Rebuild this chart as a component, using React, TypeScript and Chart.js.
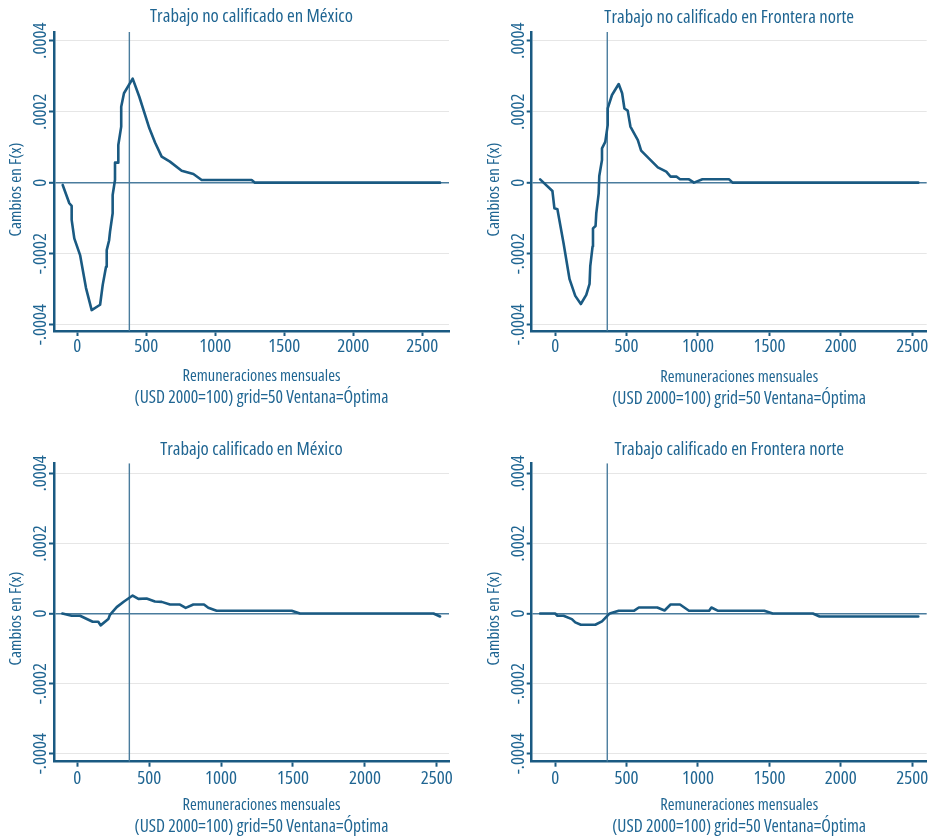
import React, { useEffect, useRef } from 'react';
import { Chart, registerables } from 'chart.js';

Chart.register(...registerables);

// ---------- DATA ----------
const TITLES = [
  'Trabajo no calificado en México',
  'Trabajo no calificado en Frontera norte',
  'Trabajo calificado en México',
  'Trabajo calificado en Frontera norte',
];
const X_TITLE = ['Remuneraciones mensuales', '(USD 2000=100) grid=50 Ventana=Óptima'];
const Y_TITLE = 'Cambios en F(x)';
const X_TICKS = [0, 500, 1000, 1500, 2000, 2500];
const Y_TICKS = [-0.0004, -0.0002, 0, 0.0002, 0.0004];

// Panel 1: Trabajo no calificado en México
const p1X = [-106, -58, -41, -41, -22, 20, 63, 104, 165, 184, 208, 213, 230, 237, 256, 256, 273, 273, 297, 297, 318, 318, 338, 401, 449, 522, 563, 611, 671, 756, 841, 901, 1263, 1287, 2628];
const p1Y = [-0.0000065, -0.000058, -0.0000656, -0.000105, -0.000157, -0.000204, -0.000297, -0.000359, -0.000344, -0.000288, -0.000237, -0.00019, -0.000163, -0.000138, -0.0000862, -0.0000346, 0.0000076, 0.0000563, 0.0000563, 0.000106, 0.000158, 0.000214, 0.000252, 0.000293, 0.000242, 0.000153, 0.000113, 0.0000732, 0.0000592, 0.0000338, 0.0000244, 0.0000075, 0.0000075, 0, 0];
const p1VLine = 377;

// Panel 2: Trabajo no calificado en Frontera norte
const p2X = [-105, -19, -5, 16, 59, 101, 141, 180, 218, 241, 246, 262, 265, 283, 288, 305, 309, 328, 328, 351, 368, 368, 398, 445, 469, 485, 508, 527, 579, 602, 656, 719, 778, 808, 851, 874, 937, 972, 1031, 1218, 1242, 2542];
const p2Y = [0.0000094, -0.0000235, -0.0000723, -0.0000751, -0.000171, -0.000272, -0.000319, -0.000342, -0.000316, -0.000285, -0.000235, -0.00018, -0.000129, -0.000122, -0.0000864, -0.00003, 0.0000188, 0.0000639, 0.0000967, 0.000115, 0.000162, 0.000209, 0.000247, 0.000278, 0.000252, 0.000209, 0.000203, 0.000158, 0.00012, 0.0000901, 0.0000685, 0.0000432, 0.000031, 0.0000169, 0.0000169, 0.0000094, 0.0000094, 0, 0.0000094, 0.0000094, 0, 0];
const p2VLine = 365;

// Panel 3: Trabajo calificado en México
const p3X = [-104, -39, 19, 107, 146, 162, 216, 227, 274, 325, 385, 425, 482, 540, 587, 645, 714, 754, 807, 881, 911, 969, 1491, 1549, 2477, 2523];
const p3Y = [0, -0.0000066, -0.0000066, -0.0000237, -0.0000237, -0.000034, -0.0000161, -0.0000038, 0.000018, 0.000034, 0.0000511, 0.0000416, 0.0000426, 0.000034, 0.0000331, 0.0000255, 0.0000255, 0.0000161, 0.0000255, 0.0000255, 0.0000161, 0.0000076, 0.0000076, 0, 0, -0.0000085];
const p3VLine = 362;

// Panel 4: Trabajo calificado en Frontera norte
const p4X = [-105, 0, 16, 59, 117, 141, 180, 281, 328, 382, 445, 551, 586, 715, 766, 808, 874, 937, 1078, 1094, 1141, 1464, 1523, 1804, 1851, 2542];
const p4Y = [0, 0, -0.0000066, -0.0000066, -0.0000161, -0.0000255, -0.0000322, -0.0000322, -0.0000227, 0, 0.0000076, 0.0000076, 0.000017, 0.000017, 0.0000085, 0.0000255, 0.0000255, 0.0000076, 0.0000076, 0.000017, 0.0000076, 0.0000076, 0, 0, -0.0000085, -0.0000085];
const p4VLine = 365;

// ---------- STYLE / LAYOUT ----------
const LINE = '#1a5a82';
const AXIS = '#1a5a82';
const TEXT = '#1f6592';
const REF = '#4a7c9d';
const GRID = '#e6e6e6';
const Y_W = 54;
const TICK_LEN = 5;

// choose a condensed face if the system offers one
type FontChoice = { family: string; stretch: string };
function pickFont(): FontChoice {
  const ctx = document.createElement('canvas').getContext('2d')!;
  const sample = 'Trabajo no calificado 2500';
  const w = (f: string) => { ctx.font = '10px serif'; ctx.font = f; return ctx.measureText(sample).width; };
  const cands: [string, string][] = [
    ['extra-condensed', '"Noto Sans"'],
    ['condensed', '"Open Sans"'],
    ['condensed', '"Noto Sans"'],
  ];
  for (const [st, fam] of cands) {
    const n = w(`100px ${fam}`);
    const c = w(`${st} 100px ${fam}`);
    if (c < n * 0.85) return { family: fam, stretch: st };
  }
  const mono = w('100px monospace');
  const lsn = w('100px "Liberation Sans Narrow", monospace');
  if (Math.abs(mono - lsn) > 1) return { family: '"Liberation Sans Narrow"', stretch: '' };
  const dn = w('100px "DejaVu Sans"');
  const dc = w('condensed 100px "DejaVu Sans"');
  if (dc < dn * 0.97) return { family: '"DejaVu Sans"', stretch: 'condensed' };
  return { family: '"DejaVu Sans Condensed", sans-serif', stretch: '' };
}
const FC = pickFont();
function fontStr(size: number) {
  return `${FC.stretch ? FC.stretch + ' ' : ''}${size}px ${FC.family}`;
}
function fitSize(text: string, target: number) {
  const ctx = document.createElement('canvas').getContext('2d')!;
  ctx.font = fontStr(100);
  return (100 * target) / ctx.measureText(text).width;
}
const TITLE_SIZE = fitSize(TITLES[0], 203);
const TICK_SIZE = fitSize('2500', 32);
const XTITLE_SIZE = fitSize(X_TITLE[0], 158);
const XTITLE2_SIZE = Math.min(fitSize(X_TITLE[1], 254), XTITLE_SIZE * 1.12);
const YTITLE_SIZE = fitSize(Y_TITLE, 94);
function mkFont(size: number, lineHeight: number | string) {
  return { family: FC.family, size, weight: FC.stretch ? FC.stretch : 'normal', lineHeight };
}

type Spec = {
  title: string; xs: number[]; ys: number[]; vline: number;
  xMin: number; xMax: number; yMin: number; yMax: number;
  left: number; top: number; w: number; h: number;
  aL: number; aR: number; aT: number; aB: number;
  titleY: number; xTitle2: number; xTickC: number; yTitleDy: number;
};

const SPECS: Spec[] = [
  { title: TITLES[0], xs: p1X, ys: p1Y, vline: p1VLine, xMin: -169, xMax: 2693, yMin: -0.000418, yMax: 0.0004245,
    left: 0, top: 0, w: 460, h: 420, aL: 54, aR: 449, aT: 32, aB: 331, titleY: 17, xTitle2: 398.3, xTickC: 15.7, yTitleDy: 8 },
  { title: TITLES[1], xs: p2X, ys: p2Y, vline: p2VLine, xMin: -164, xMax: 2601, yMin: -0.000418, yMax: 0.0004245,
    left: 460, top: 0, w: 471, h: 420, aL: 71.7, aR: 466.7, aT: 32, aB: 331, titleY: 17.3, xTitle2: 399, xTickC: 15.7, yTitleDy: 8 },
  { title: TITLES[2], xs: p3X, ys: p3Y, vline: p3VLine, xMin: -162, xMax: 2585, yMin: -0.000423, yMax: 0.0004285,
    left: 0, top: 420, w: 460, h: 419, aL: 54, aR: 449, aT: 43.3, aB: 341.7, titleY: 29.3, xTitle2: 407.3, xTickC: 16.5, yTitleDy: 6 },
  { title: TITLES[3], xs: p4X, ys: p4Y, vline: p4VLine, xMin: -164, xMax: 2601, yMin: -0.000423, yMax: 0.0004285,
    left: 460, top: 420, w: 471, h: 419, aL: 71.7, aR: 466.7, aT: 43.3, aB: 341.7, titleY: 29.3, xTitle2: 407.3, xTickC: 16.5, yTitleDy: 6 },
];

function fmtY(v: number) {
  if (Math.abs(v) < 1e-12) return '0';
  return v.toFixed(4).replace('0.', '.');
}

function widestYLabel(): number {
  const ctx = document.createElement('canvas').getContext('2d')!;
  ctx.font = fontStr(TICK_SIZE);
  let m = 0;
  for (const v of Y_TICKS) m = Math.max(m, ctx.measureText(fmtY(v)).width);
  return m;
}

// axis titles, placed as in the reference (offset slightly from the plot centre)
function axisTitlesPlugin(p: Spec) {
  return {
    id: 'axisTitles',
    afterDraw(chart: any) {
      const { ctx, chartArea } = chart;
      ctx.save();
      ctx.fillStyle = TEXT;
      ctx.textAlign = 'center';
      ctx.textBaseline = 'middle';
      const cx = (chartArea.left + chartArea.right) / 2 + 10;
      ctx.font = fontStr(XTITLE_SIZE);
      ctx.fillText(X_TITLE[0], cx, p.xTitle2 - 21.6);
      ctx.font = fontStr(XTITLE2_SIZE);
      ctx.fillText(X_TITLE[1], cx, p.xTitle2);
      ctx.font = fontStr(YTITLE_SIZE);
      ctx.translate(p.aL - 37.5, (chartArea.top + chartArea.bottom) / 2 + p.yTitleDy);
      ctx.rotate(-Math.PI / 2);
      ctx.fillText(Y_TITLE, 0, 0);
      ctx.restore();
    },
  };
}

function makeConfig(p: Spec): any {
  const pts = p.xs.map((x, i) => ({ x, y: p.ys[i] }));
  const titleLH = TITLE_SIZE * 1.2;
  const tickLH = TICK_SIZE * 1.2;
  const yLabelCenter = 13; // distance of y label centre from the axis
  const widest = widestYLabel();
  const yTickPad = yLabelCenter - TICK_LEN - widest / 2;
  return {
    type: 'line',
    data: {
      datasets: [
        {
          data: [{ x: p.vline, y: p.yMin }, { x: p.vline, y: p.yMax }],
          borderColor: REF, borderWidth: 1.4, pointRadius: 0, order: 2,
        },
        {
          data: pts, borderColor: LINE, borderWidth: 2.6, pointRadius: 0,
          borderJoinStyle: 'round', borderCapStyle: 'round', tension: 0, order: 1,
        },
      ],
    },
    plugins: [axisTitlesPlugin(p)],
    options: {
      animation: false,
      responsive: false,
      maintainAspectRatio: false,
      devicePixelRatio: 1,
      layout: { padding: { left: p.aL - Y_W, right: p.w - p.aR, top: 0, bottom: 0 } },
      plugins: {
        legend: { display: false },
        tooltip: { enabled: false },
        title: {
          display: true, text: p.title, fullSize: false, color: TEXT,
          font: mkFont(TITLE_SIZE, 1.2),
          padding: { top: p.titleY - titleLH / 2, bottom: p.aT - titleLH - (p.titleY - titleLH / 2) },
        },
      },
      scales: {
        x: {
          type: 'linear', min: p.xMin, max: p.xMax,
          afterFit: (s: any) => { s.height = p.h - p.aB; },
          afterBuildTicks: (s: any) => { s.ticks = X_TICKS.map((v) => ({ value: v })); },
          ticks: {
            color: TEXT, padding: p.xTickC - TICK_LEN - tickLH / 2,
            maxRotation: 0, minRotation: 0, autoSkip: false,
            font: mkFont(TICK_SIZE, 1.2),
            callback: (v: any) => String(v),
          },
          grid: { drawOnChartArea: false, drawTicks: true, tickLength: TICK_LEN, tickColor: AXIS, tickWidth: 2 },
          border: { display: true, color: AXIS, width: 2.5 },
          title: { display: false },
        },
        y: {
          type: 'linear', min: p.yMin, max: p.yMax,
          afterFit: (s: any) => { s.width = Y_W; },
          afterBuildTicks: (s: any) => { s.ticks = Y_TICKS.map((v) => ({ value: v })); },
          ticks: {
            color: TEXT,
            minRotation: 90, maxRotation: 90, crossAlign: 'center', padding: yTickPad,
            autoSkip: false,
            font: mkFont(TICK_SIZE, 1.2),
            callback: (v: any) => fmtY(Number(v)),
          },
          grid: {
            drawOnChartArea: true, drawTicks: true, tickLength: TICK_LEN, tickWidth: 2,
            tickColor: AXIS,
            color: (c: any) => (c.tick && Math.abs(c.tick.value) < 1e-12 ? REF : GRID),
            lineWidth: (c: any) => (c.tick && Math.abs(c.tick.value) < 1e-12 ? 1.6 : 1),
          },
          border: { display: true, color: AXIS, width: 2.5 },
          title: { display: false },
        },
      },
    },
  };
}

function Panel({ spec }: { spec: Spec }) {
  const ref = useRef<HTMLCanvasElement>(null);
  useEffect(() => {
    const chart = new Chart(ref.current!, makeConfig(spec));
    return () => chart.destroy();
  }, [spec]);
  return (
    <canvas
      ref={ref}
      width={spec.w}
      height={spec.h}
      style={{ position: 'absolute', left: spec.left, top: spec.top, width: spec.w, height: spec.h }}
    />
  );
}

export default function App() {
  return (
    <div style={{ position: 'absolute', left: 0, top: 0, width: 931, height: 839, background: '#ffffff' }}>
      {SPECS.map((s, i) => (
        <Panel key={i} spec={s} />
      ))}
    </div>
  );
}
